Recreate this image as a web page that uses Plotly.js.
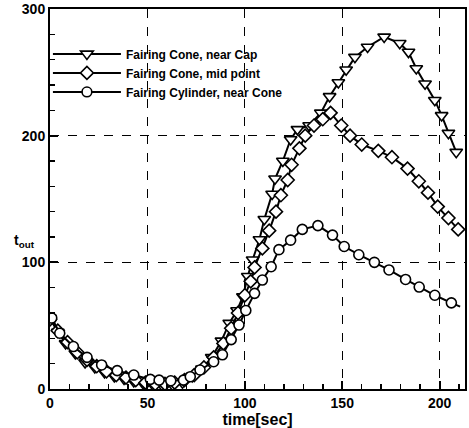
<!DOCTYPE html>
<html>
<head>
<meta charset="utf-8">
<script src="https://cdn.plot.ly/plotly-3.0.1.min.js"></script>
<style>html,body{margin:0;padding:0;background:#fff;}#chart{width:469px;height:428px;}</style>
</head>
<body>
<div id="chart"></div>
<script>
const seriesNames = ["Fairing Cone, near Cap", "Fairing Cone, mid point", "Fairing Cylinder, near Cone"];

const capTime = [0, 4, 8, 13, 18, 23, 28, 33, 38, 43, 48, 53, 58, 63, 68, 73, 78, 83, 88, 92, 96, 99, 101.5, 104, 107.5, 110, 114, 115.5, 119.5, 123.5, 127, 133, 139, 143.5, 148, 152, 156.5, 163, 171.5, 179.5, 184, 188, 192.5, 197.5, 201, 204.5, 208.5];
const capTout = [56, 45, 36, 28, 21, 17, 13, 10, 8, 6, 4, 3, 2, 3, 5, 10, 16, 25, 38, 52, 62, 73, 89, 102, 118, 134, 154, 166, 180, 197, 205, 208, 218, 231, 242, 252, 262, 270, 278, 273, 266, 253, 241, 228, 216, 202, 187];

const midTime = [0, 4, 9, 14, 19, 24, 29, 34, 39, 44, 49, 54, 59, 64, 69, 74, 79, 84, 89, 93, 96.5, 100, 103, 105, 109, 112.5, 116, 118.5, 122, 124, 128, 131, 135.5, 140, 144, 149.5, 154, 160, 168.5, 175.5, 183.5, 189.3, 194, 199, 204.5, 209.5];
const midTout = [55, 46, 37, 29, 23, 18, 14, 11, 9, 7, 5, 4, 4, 5, 7, 11, 17, 25, 36, 48, 60, 74, 85, 96, 111, 125, 140, 153, 165, 177, 190, 200, 208, 213, 218, 208, 200, 193, 188, 183, 174, 164, 155, 144, 135, 126];

const cylTime = [0.9, 5, 12, 19, 26.5, 34.5, 43, 51.5, 56, 62, 68.5, 72, 77, 84, 88.5, 93, 97, 100.5, 105, 109, 113.5, 117.5, 123.5, 129.5, 137.5, 145, 151, 158.5, 166.5, 174, 182.5, 189.5, 197.5, 206, 210.5];
const cylTout = [56, 44, 33.5, 25, 19, 14.5, 11, 7.6, 7, 6.5, 7, 9.7, 15, 21.5, 27, 39, 50.5, 62, 75.5, 86, 96.5, 110, 117.5, 126, 129, 121.5, 112.5, 106, 100, 94, 86.5, 80.5, 74, 68, 65];

const xTicks = [0, 50, 100, 150, 200];
const yTicks = [0, 100, 200, 300];

function trace(name, x, y, symbol, size, hideLast) {
  const sizes = x.map((_, i) => (hideLast && i === x.length - 1) ? 0 : size);
  return {
    type: 'scatter', mode: 'lines+markers', name: name, x: x, y: y,
    line: {color: '#000', width: 2},
    marker: {symbol: symbol, size: sizes, sizemode: 'diameter', opacity: 1, color: '#fff', line: {color: '#000', width: 1.6}}
  };
}

const data = [
  trace(seriesNames[0], capTime, capTout, 'triangle-down', 11, false),
  trace(seriesNames[1], midTime, midTout, 'diamond', 10, false),
  trace(seriesNames[2], cylTime, cylTout, 'circle', 10, true)
];

const font = {family: 'Liberation Sans, Arial, sans-serif', color: '#000'};

const layout = {
  width: 469, height: 428,
  margin: {l: 50, r: 4, t: 9, b: 39},
  paper_bgcolor: '#fff', plot_bgcolor: '#fff',
  showlegend: true,
  legend: {
    x: -0.005, y: 0.92, xanchor: 'left', yanchor: 'top',
    bgcolor: 'rgba(0,0,0,0)', borderwidth: 0,
    font: Object.assign({size: 12, weight: 'bold'}, font),
    itemwidth: 68, tracegroupgap: 0
  },
  xaxis: {
    range: [0, 213], tickvals: xTicks, ticktext: xTicks.map(String),
    ticks: 'inside', ticklen: 8, tickwidth: 2, tickcolor: '#000',
    minor: {dtick: 10, tick0: 0, ticks: 'inside', ticklen: 5, tickwidth: 1.5, tickcolor: '#000', showgrid: false},
    showline: true, linewidth: 2, linecolor: '#000', mirror: true,
    showgrid: true, gridcolor: '#000', gridwidth: 1, griddash: 'dash',
    zeroline: false,
    tickfont: Object.assign({size: 14, weight: 'bold'}, font),
    title: {text: 'time[sec]', font: Object.assign({size: 16, weight: 'bold'}, font), standoff: 4}
  },
  yaxis: {
    range: [0, 300], tickvals: yTicks, ticktext: yTicks.map(String),
    ticks: 'inside', ticklen: 8, tickwidth: 2, tickcolor: '#000',
    minor: {dtick: 20, tick0: 0, ticks: 'inside', ticklen: 5, tickwidth: 1.5, tickcolor: '#000', showgrid: false},
    showline: true, linewidth: 2, linecolor: '#000', mirror: true,
    showgrid: true, gridcolor: '#000', gridwidth: 1, griddash: 'dash',
    zeroline: false,
    tickfont: Object.assign({size: 14, weight: 'bold'}, font)
  },
  annotations: [{
    xref: 'paper', yref: 'paper', x: -0.062, y: 0.39, xanchor: 'center', yanchor: 'middle',
    text: 't<sub>out</sub>', showarrow: false,
    font: Object.assign({size: 14, weight: 'bold'}, font)
  }]
};

Plotly.newPlot('chart', data, layout, {displayModeBar: false, staticPlot: true});
</script>
</body>
</html>
